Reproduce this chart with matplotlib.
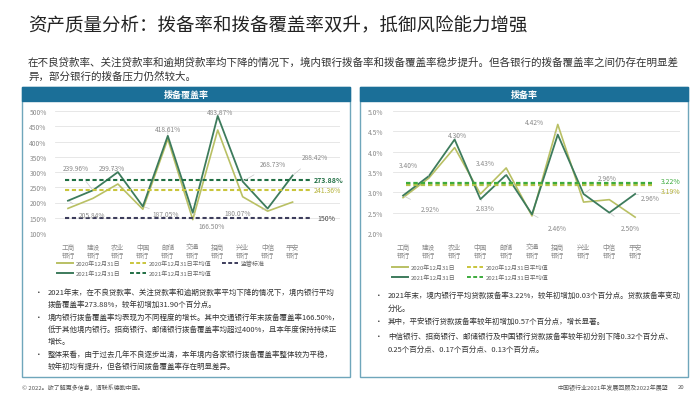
import matplotlib.pyplot as plt
from matplotlib.patches import Rectangle
from matplotlib.lines import Line2D

plt.rcParams['font.family'] = ['Noto Sans CJK SC', 'DejaVu Sans']

# data
banks = ['工商\n银行', '建设\n银行', '农业\n银行', '中国\n银行', '邮储\n银行',
         '交通\n银行', '招商\n银行', '兴业\n银行', '中信\n银行', '平安\n银行']
cov_2020 = [180.68, 213.59, 260.64, 177.84, 408.06, 143.87, 437.68, 218.83, 171.68, 201.40]
cov_2021 = [205.84, 239.96, 299.73, 187.05, 418.61, 166.50, 483.87, 268.73, 180.07, 288.42]
cov_avg_2020 = 241.36
cov_avg_2021 = 273.88
cov_reg = 150
prov_2020 = [2.87, 3.35, 4.10, 2.96, 3.60, 2.42, 4.67, 2.76, 2.82, 2.39]
prov_2021 = [2.92, 3.40, 4.30, 2.83, 3.43, 2.46, 4.42, 2.96, 2.50, 2.96]
prov_avg_2020 = 3.19
prov_avg_2021 = 3.22

# label positions for the 2021 values (x, y in data units)
cov_lbl = [(0.95, 160), (0.3, 313), (1.75, 313), (3.9, 163), (4.0, 440),
           (5.75, 122), (6.1, 498), (8.2, 327), (6.8, 167), (9.9, 350)]
prov_lbl = [(1.05, 2.58), (0.2, 3.66), (2.1, 4.40), (3.2, 2.62), (3.2, 3.71),
            (6.0, 2.12), (5.1, 4.73), (7.9, 3.36), (8.8, 2.12), (9.6, 2.87)]

c21 = '#3d7b5c'
c20 = '#b9c064'
grey = '#8a8a8a'
W, H = 700, 402


def fx(x):
    return x / W


def fy(y):
    return 1 - y / H


fig = plt.figure(figsize=(7, 4.02), dpi=100)

fig.text(fx(28), fy(25), '资产质量分析：拨备率和拨备覆盖率双升，抵御风险能力增强',
         fontsize=13.3, color='#222222', va='center')
fig.text(fx(28), fy(63), '在不良贷款率、关注贷款率和逾期贷款率均下降的情况下，境内银行拨备率和拨备覆盖率稳步提升。但各银行的拨备覆盖率之间仍存在明显差',
         fontsize=7.6, color='#333333', va='center')
fig.text(fx(28), fy(77), '异，部分银行的拨备压力仍然较大。',
         fontsize=7.6, color='#333333', va='center')

# panels
for x0, x1, title in [(22, 350, '拨备覆盖率'), (360, 688, '拨备率')]:
    fig.patches.append(Rectangle((fx(x0), fy(378)), fx(x1 - x0), (378 - 88) / H,
                                 transform=fig.transFigure, fill=False,
                                 edgecolor='#6fa6bb', lw=1.0))
    fig.patches.append(Rectangle((fx(x0), fy(102)), fx(x1 - x0), 14 / H,
                                 transform=fig.transFigure, color='#1b6f98'))
    fig.text(fx((x0 + x1) / 2), fy(95), title, color='white', fontsize=6.5,
             fontweight='bold', ha='center', va='center')

# left chart
ax1 = fig.add_axes([fx(55), fy(234), fx(340 - 55), (234 - 112) / H])
x = list(range(len(banks)))
ax1.plot(x, cov_2020, color=c20, lw=1.2)
ax1.plot(x, cov_2021, color=c21, lw=1.3)
ax1.plot([-0.1, 9.7], [cov_avg_2021] * 2, color='#1f6e43', lw=1.5, ls=(0, (2, 1.3)))
ax1.plot([-0.1, 9.7], [cov_avg_2020] * 2, color='#c9c53c', lw=1.5, ls=(0, (2, 1.3)))
ax1.plot([-0.1, 9.7], [cov_reg] * 2, color='#3d3d5c', lw=1.5, ls=(0, (2, 1.3)))
ax1.text(9.85, cov_avg_2021, f'{cov_avg_2021:.2f}%', color='#1f6e43', fontsize=5,
         fontweight='bold', va='center')
ax1.text(9.85, cov_avg_2020, f'{cov_avg_2020:.2f}%', color='#b5b23a', fontsize=5,
         va='center')
ax1.text(10.0, cov_reg, f'{cov_reg}%', color='#444444', fontsize=5, va='center')
for i, v in enumerate(cov_2021):
    ax1.annotate(f'{v:.2f}%', xy=(i, v), xytext=cov_lbl[i], fontsize=4.8, color=grey,
                 ha='center', va='center',
                 arrowprops=dict(arrowstyle='-', color='#c8c8c8', lw=0.5,
                                 shrinkA=6, shrinkB=1))
ax1.set_xlim(-0.52, 10.9)
ax1.set_ylim(100, 500)
ax1.set_yticks(range(100, 501, 50))
ax1.set_yticklabels([f'{t}%' for t in range(100, 501, 50)])
ax1.set_xticks(x)
ax1.set_xticklabels(banks)

# right chart
ax2 = fig.add_axes([fx(393), fy(234), fx(680 - 393), (234 - 112) / H])
ax2.plot(x, prov_2020, color=c20, lw=1.2)
ax2.plot(x, prov_2021, color=c21, lw=1.3)
ax2.plot([0.1, 9.65], [prov_avg_2020] * 2, color='#b5c24a', lw=1.6, ls=(0, (2, 1.3)))
ax2.plot([0.1, 9.65], [prov_avg_2021] * 2, color='#3dab3d', lw=1.6, ls=(0, (2, 1.3)))
ax2.text(10.0, 3.29, f'{prov_avg_2021:.2f}%', color='#3dab3d', fontsize=5, va='center')
ax2.text(10.0, 3.04, f'{prov_avg_2020:.2f}%', color='#b5b23a', fontsize=5, va='center')
for i, v in enumerate(prov_2021):
    ax2.annotate(f'{v:.2f}%', xy=(i, v), xytext=prov_lbl[i], fontsize=4.8, color=grey,
                 ha='center', va='center',
                 arrowprops=dict(arrowstyle='-', color='#c8c8c8', lw=0.5,
                                 shrinkA=6, shrinkB=1))
ax2.set_xlim(-0.39, 10.74)
ax2.set_ylim(2.0, 5.0)
ticks2 = [2.0, 2.5, 3.0, 3.5, 4.0, 4.5, 5.0]
ax2.set_yticks(ticks2)
ax2.set_yticklabels([f'{t:.1f}%' for t in ticks2])
ax2.set_xticks(x)
ax2.set_xticklabels(banks)

for ax, pad in [(ax1, 6), (ax2, 7)]:
    for s in ax.spines.values():
        s.set_visible(False)
    ax.grid(axis='y', color='#e3e3e3', lw=0.6)
    ax.set_axisbelow(True)
    ax.tick_params(axis='y', length=0, labelsize=4.8, labelcolor=grey, pad=pad)
    ax.tick_params(axis='x', length=0, labelsize=4.8, labelcolor=grey, pad=7)
    for lbl in ax.get_xticklabels():
        lbl.set_linespacing(1.1)


# legends
def leg_item(x0, y, color, label, dashed=False, w=16):
    ls = (0, (2, 1.2)) if dashed else '-'
    fig.add_artist(Line2D([fx(x0), fx(x0 + w)], [fy(y), fy(y)], color=color,
                          lw=1.4, ls=ls, transform=fig.transFigure))
    fig.text(fx(x0 + w + 3), fy(y), label, fontsize=4.3, color='#666666', va='center')


leg_item(57, 264, c20, '2020年12月31日')
leg_item(130, 264, '#c9c53c', '2020年12月31日平均值', dashed=True)
leg_item(222, 264, '#3d3d5c', '监管标准', dashed=True)
leg_item(57, 274, c21, '2021年12月31日')
leg_item(130, 274, '#1f6e43', '2021年12月31日平均值', dashed=True)

leg_item(392, 268, c20, '2020年12月31日')
leg_item(467, 268, '#c9c53c', '2020年12月31日平均值', dashed=True)
leg_item(392, 278, c21, '2021年12月31日')
leg_item(467, 278, '#3dab3d', '2021年12月31日平均值', dashed=True)

# bullets
left_lines = [
    (293, True, '2021年末，在不良贷款率、关注贷款率和逾期贷款率平均下降的情况下，境内银行平均'),
    (305, False, '拨备覆盖率273.88%，较年初增加31.90个百分点。'),
    (318, True, '境内银行拨备覆盖率均表现为不同程度的增长。其中交通银行年末拨备覆盖率166.50%，'),
    (330, False, '低于其他境内银行。招商银行、邮储银行拨备覆盖率均超过400%，且本年度保持持续正'),
    (342, False, '增长。'),
    (355, True, '整体来看，由于过去几年不良逐步出清，本年境内各家银行拨备覆盖率整体较为平稳，'),
    (367, False, '较年初均有提升，但各银行间拨备覆盖率存在明显差异。'),
]
right_lines = [
    (296, True, '2021年末，境内银行平均贷款拨备率3.22%，较年初增加0.03个百分点。贷款拨备率变动'),
    (309, False, '分化。'),
    (322, True, '其中，平安银行贷款拨备率较年初增加0.57个百分点，增长显著。'),
    (337, True, '中信银行、招商银行、邮储银行及中国银行贷款拨备率较年初分别下降0.32个百分点、'),
    (350, False, '0.25个百分点、0.17个百分点、0.13个百分点。'),
]
for xb, xt, lines in [(35, 48, left_lines), (375, 388, right_lines)]:
    for y, bullet, txt in lines:
        if bullet:
            fig.text(fx(xb), fy(y), '•', fontsize=5.5, color='#333333', va='center')
        fig.text(fx(xt), fy(y), txt, fontsize=5.4, color='#333333', va='center')

# footer
fig.text(fx(22), fy(388), '© 2022。欲了解更多信息，请联系德勤中国。', fontsize=4.3,
         color='#555555', va='center')
fig.text(fx(557), fy(388), '中国银行业2021年发展回顾及2022年展望', fontsize=4.3,
         color='#555555', va='center')
fig.text(fx(678), fy(388), '20', fontsize=4.3, color='#555555', va='center')

fig.savefig('out.png', dpi=100)
